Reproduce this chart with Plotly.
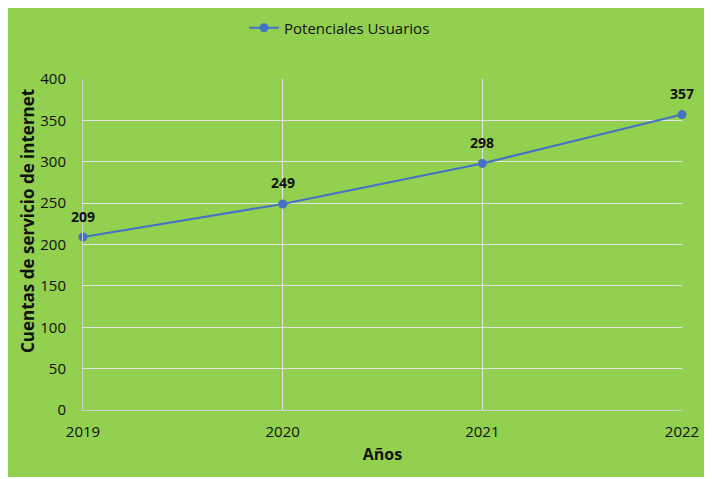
import plotly.graph_objects as go

years = ["2019", "2020", "2021", "2022"]
usuarios = [209, 249, 298, 357]
series_name = "Potenciales Usuarios"
y_ticks = [0, 50, 100, 150, 200, 250, 300, 350, 400]
x_title = "Años"
y_title = "Cuentas de servicio de internet"

# figure sits at page offset (8, 8) because of the default body margin
W, H = 704, 469
L, R, T, B = 75, 30, 71, 67
pw, ph = W - L - R, H - T - B

fig = go.Figure()
fig.add_trace(go.Scatter(
    x=years, y=usuarios, name=series_name, mode="lines+markers",
    line=dict(color="#4472C4", width=2),
    marker=dict(color="#4472C4", size=9),
    cliponaxis=False,
))

for i, v in enumerate(usuarios):
    fig.add_annotation(x=i, y=v, xref="x", yref="y", text=str(v), showarrow=False, yshift=21,
                       font=dict(family="Open Sans", size=14, color="#111111", weight="bold"))

# y-axis title (placed a bit above the plot centre, as in the original)
fig.add_annotation(xref="paper", yref="paper", x=(19 - L) / pw, y=(H - B - 213) / ph,
                   text=y_title, textangle=-90, showarrow=False,
                   xanchor="center", yanchor="middle",
                   font=dict(family="Open Sans", size=17, color="#111111", weight="bold"))

fig.update_layout(
    width=W, height=H,
    margin=dict(l=L, r=R, t=T, b=B, autoexpand=False),
    paper_bgcolor="#92D050",
    plot_bgcolor="#92D050",
    font=dict(family="Open Sans", size=15, color="#111111"),
    showlegend=True,
    legend=dict(orientation="h", xref="container", yref="container",
                x=236 / W, y=1 - 20 / H, xanchor="left", yanchor="middle",
                bgcolor="rgba(0,0,0,0)", font=dict(size=15, color="#111111")),
    xaxis=dict(
        type="category", range=[0, 3],
        showgrid=True, gridcolor="#E3E3E3", gridwidth=1,
        showline=True, linecolor="#D0D0D0", linewidth=1,
        ticks="", ticklabelstandoff=8,
        tickfont=dict(size=15),
        title=dict(text=x_title, font=dict(size=16, weight="bold"), standoff=8),
        zeroline=False,
    ),
    yaxis=dict(
        range=[0, 400], tickvals=y_ticks,
        showgrid=True, gridcolor="#E3E3E3", gridwidth=1,
        showline=True, linecolor="#D0D0D0", linewidth=1,
        ticks="", ticklabelstandoff=13,
        tickfont=dict(size=15),
        zeroline=False,
    ),
)

fig.write_html("out.html")
